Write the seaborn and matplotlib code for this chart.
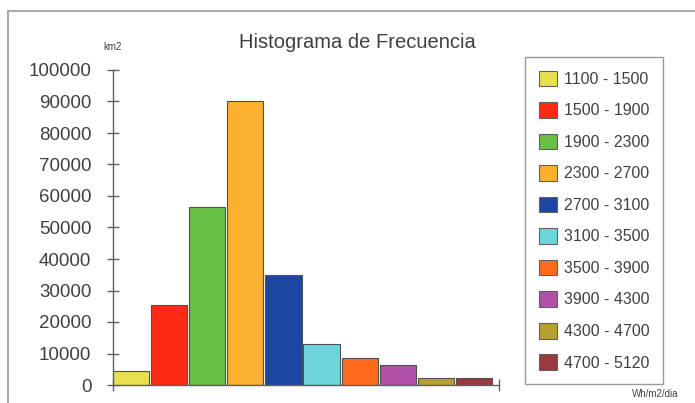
import numpy as np
import pandas as pd
import matplotlib
matplotlib.use("Agg")
import matplotlib.pyplot as plt
from matplotlib.lines import Line2D
import seaborn as sns

# rangos de radiacion (Wh/m2/dia) y superficie (km2)
rangos = ["1100 - 1500", "1500 - 1900", "1900 - 2300", "2300 - 2700", "2700 - 3100",
          "3100 - 3500", "3500 - 3900", "3900 - 4300", "4300 - 4700", "4700 - 5120"]
area = [4500, 25500, 56500, 90000, 34900, 13100, 8500, 6400, 2100, 2300]
colores = ["#e8e04e", "#ff2a14", "#68c044", "#fbb030", "#1c47a0",
           "#6fd5dc", "#ff6a1c", "#b050a8", "#b8a030", "#9a3a40"]
yticks = [0, 10000, 20000, 30000, 40000, 50000, 60000, 70000, 80000, 90000, 100000]

sns.set_style("white")
plt.rcParams["font.family"] = ["Liberation Sans", "DejaVu Sans"]
txt = "#404040"

df = pd.DataFrame({"rango": rangos, "area": area})

fig = plt.figure(figsize=(6.95, 4.03), dpi=100)
ax = fig.add_axes([113/695, 1-385/403, (499-113)/695, (385-70)/403])

sns.barplot(data=df, x="rango", y="area", hue="rango", palette=colores,
            saturation=1, dodge=False, width=0.95, edgecolor="#505050",
            linewidth=0.8, legend=False, ax=ax)

ax.set_xlim(-0.475, 9.66)
ax.set_ylim(0, 100000)
ax.set_yticks(yticks)
ax.set_yticklabels([str(v) for v in yticks], fontsize=13.5, color=txt)
ax.set_xticks([-0.475, 9.66])
ax.set_xticklabels([])
ax.set_xlabel("")
ax.set_ylabel("")
ax.tick_params(axis="both", direction="inout", length=9, width=1, color="#606060",
               left=True, bottom=True)
ax.tick_params(axis="y", pad=11)
for s in ["top", "right"]:
    ax.spines[s].set_visible(False)
for s in ["left", "bottom"]:
    ax.spines[s].set_color("#606060")
    ax.spines[s].set_linewidth(1)

# titulo y unidades
fig.text(357/695, 1-42/403, "Histograma de Frecuencia", ha="center", va="center",
         fontsize=14.5, color=txt)
fig.text(113/695, 1-47/403, "km2", ha="center", va="center", fontsize=7, color=txt)
fig.text(655/695, 1-394/403, "Wh/m2/dia", ha="center", va="center", fontsize=7, color=txt)

# leyenda
handles = [plt.Rectangle((0, 0), 1, 1, facecolor=c, edgecolor="#606060", linewidth=0.8)
           for c in colores]
leg = fig.legend(handles, rangos, loc="upper left", bbox_to_anchor=(525/695, 1-57/403),
                 fontsize=11.5, frameon=True, fancybox=False, edgecolor="#808080",
                 handlelength=1.15, handleheight=1.15, labelspacing=0.95,
                 handletextpad=0.45, borderpad=0.85, borderaxespad=0)
for t in leg.get_texts():
    t.set_color(txt)

# marco exterior
fig.add_artist(Line2D([8/695, 8/695], [0, 1-11/403], transform=fig.transFigure,
                      color="#aaaaaa", linewidth=1.5))
fig.add_artist(Line2D([8/695, 1], [1-11/403, 1-11/403], transform=fig.transFigure,
                      color="#aaaaaa", linewidth=1.5))

fig.savefig("out.png", dpi=100)
